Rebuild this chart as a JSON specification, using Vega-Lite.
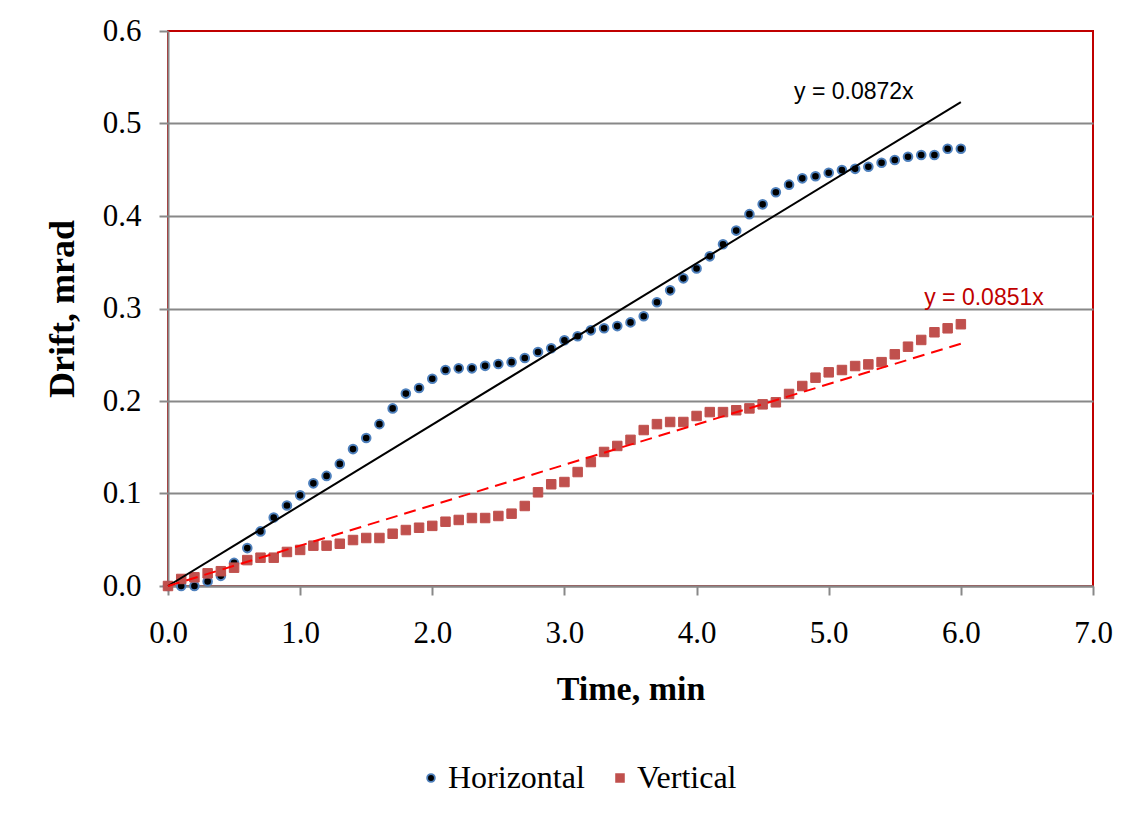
{
  "$schema": "https://vega.github.io/schema/vega-lite/v6.json",
  "width": 925,
  "height": 555,
  "autosize": {"type": "none"},
  "padding": {"left": 168, "top": 31, "right": 41, "bottom": 230},
  "background": "white",
  "config": {
    "view": {"stroke": "#C00000", "strokeWidth": 2},
    "font": "Liberation Serif",
    "legend": {
      "orient": "none",
      "legendX": 247,
      "legendY": 731,
      "direction": "horizontal",
      "labelFont": "Liberation Serif",
      "labelFontSize": 32,
      "labelColor": "#000000",
      "symbolSize": 60,
      "symbolStrokeWidth": 1.8,
      "labelOffset": 1,
      "columnPadding": 19,
      "padding": 0
    }
  },
  "datasets": {
    "points": [
      {"time": 0.0, "drift": 0.0, "series": "Horizontal"},
      {"time": 0.1, "drift": 0.0, "series": "Horizontal"},
      {"time": 0.2, "drift": 0.0, "series": "Horizontal"},
      {"time": 0.3, "drift": 0.005, "series": "Horizontal"},
      {"time": 0.4, "drift": 0.011, "series": "Horizontal"},
      {"time": 0.5, "drift": 0.025, "series": "Horizontal"},
      {"time": 0.6, "drift": 0.041, "series": "Horizontal"},
      {"time": 0.7, "drift": 0.059, "series": "Horizontal"},
      {"time": 0.8, "drift": 0.074, "series": "Horizontal"},
      {"time": 0.9, "drift": 0.087, "series": "Horizontal"},
      {"time": 1.0, "drift": 0.098, "series": "Horizontal"},
      {"time": 1.1, "drift": 0.111, "series": "Horizontal"},
      {"time": 1.2, "drift": 0.119, "series": "Horizontal"},
      {"time": 1.3, "drift": 0.132, "series": "Horizontal"},
      {"time": 1.4, "drift": 0.148, "series": "Horizontal"},
      {"time": 1.5, "drift": 0.16, "series": "Horizontal"},
      {"time": 1.6, "drift": 0.175, "series": "Horizontal"},
      {"time": 1.7, "drift": 0.192, "series": "Horizontal"},
      {"time": 1.8, "drift": 0.208, "series": "Horizontal"},
      {"time": 1.9, "drift": 0.214, "series": "Horizontal"},
      {"time": 2.0, "drift": 0.224, "series": "Horizontal"},
      {"time": 2.1, "drift": 0.2335, "series": "Horizontal"},
      {"time": 2.2, "drift": 0.2353, "series": "Horizontal"},
      {"time": 2.3, "drift": 0.2353, "series": "Horizontal"},
      {"time": 2.4, "drift": 0.238, "series": "Horizontal"},
      {"time": 2.5, "drift": 0.24, "series": "Horizontal"},
      {"time": 2.6, "drift": 0.242, "series": "Horizontal"},
      {"time": 2.7, "drift": 0.2465, "series": "Horizontal"},
      {"time": 2.8, "drift": 0.253, "series": "Horizontal"},
      {"time": 2.9, "drift": 0.257, "series": "Horizontal"},
      {"time": 3.0, "drift": 0.2656, "series": "Horizontal"},
      {"time": 3.1, "drift": 0.27, "series": "Horizontal"},
      {"time": 3.2, "drift": 0.2764, "series": "Horizontal"},
      {"time": 3.3, "drift": 0.2786, "series": "Horizontal"},
      {"time": 3.4, "drift": 0.281, "series": "Horizontal"},
      {"time": 3.5, "drift": 0.285, "series": "Horizontal"},
      {"time": 3.6, "drift": 0.2916, "series": "Horizontal"},
      {"time": 3.7, "drift": 0.3067, "series": "Horizontal"},
      {"time": 3.8, "drift": 0.3196, "series": "Horizontal"},
      {"time": 3.9, "drift": 0.3326, "series": "Horizontal"},
      {"time": 4.0, "drift": 0.3432, "series": "Horizontal"},
      {"time": 4.1, "drift": 0.3564, "series": "Horizontal"},
      {"time": 4.2, "drift": 0.3695, "series": "Horizontal"},
      {"time": 4.3, "drift": 0.3842, "series": "Horizontal"},
      {"time": 4.4, "drift": 0.402, "series": "Horizontal"},
      {"time": 4.5, "drift": 0.4126, "series": "Horizontal"},
      {"time": 4.6, "drift": 0.4256, "series": "Horizontal"},
      {"time": 4.7, "drift": 0.4339, "series": "Horizontal"},
      {"time": 4.8, "drift": 0.4407, "series": "Horizontal"},
      {"time": 4.9, "drift": 0.443, "series": "Horizontal"},
      {"time": 5.0, "drift": 0.4468, "series": "Horizontal"},
      {"time": 5.1, "drift": 0.4497, "series": "Horizontal"},
      {"time": 5.2, "drift": 0.451, "series": "Horizontal"},
      {"time": 5.3, "drift": 0.4533, "series": "Horizontal"},
      {"time": 5.4, "drift": 0.4576, "series": "Horizontal"},
      {"time": 5.5, "drift": 0.4605, "series": "Horizontal"},
      {"time": 5.6, "drift": 0.464, "series": "Horizontal"},
      {"time": 5.7, "drift": 0.466, "series": "Horizontal"},
      {"time": 5.8, "drift": 0.466, "series": "Horizontal"},
      {"time": 5.9, "drift": 0.4727, "series": "Horizontal"},
      {"time": 6.0, "drift": 0.4727, "series": "Horizontal"},
      {"time": 0.0, "drift": 0.0, "series": "Vertical"},
      {"time": 0.1, "drift": 0.0076, "series": "Vertical"},
      {"time": 0.2, "drift": 0.0094, "series": "Vertical"},
      {"time": 0.3, "drift": 0.0137, "series": "Vertical"},
      {"time": 0.4, "drift": 0.016, "series": "Vertical"},
      {"time": 0.5, "drift": 0.0198, "series": "Vertical"},
      {"time": 0.6, "drift": 0.028, "series": "Vertical"},
      {"time": 0.7, "drift": 0.0306, "series": "Vertical"},
      {"time": 0.8, "drift": 0.0306, "series": "Vertical"},
      {"time": 0.9, "drift": 0.0368, "series": "Vertical"},
      {"time": 1.0, "drift": 0.039, "series": "Vertical"},
      {"time": 1.1, "drift": 0.0436, "series": "Vertical"},
      {"time": 1.2, "drift": 0.0436, "series": "Vertical"},
      {"time": 1.3, "drift": 0.0457, "series": "Vertical"},
      {"time": 1.4, "drift": 0.0497, "series": "Vertical"},
      {"time": 1.5, "drift": 0.0519, "series": "Vertical"},
      {"time": 1.6, "drift": 0.0519, "series": "Vertical"},
      {"time": 1.7, "drift": 0.0565, "series": "Vertical"},
      {"time": 1.8, "drift": 0.0605, "series": "Vertical"},
      {"time": 1.9, "drift": 0.063, "series": "Vertical"},
      {"time": 2.0, "drift": 0.065, "series": "Vertical"},
      {"time": 2.1, "drift": 0.0695, "series": "Vertical"},
      {"time": 2.2, "drift": 0.0714, "series": "Vertical"},
      {"time": 2.3, "drift": 0.0735, "series": "Vertical"},
      {"time": 2.4, "drift": 0.0735, "series": "Vertical"},
      {"time": 2.5, "drift": 0.0757, "series": "Vertical"},
      {"time": 2.6, "drift": 0.0782, "series": "Vertical"},
      {"time": 2.7, "drift": 0.0865, "series": "Vertical"},
      {"time": 2.8, "drift": 0.1013, "series": "Vertical"},
      {"time": 2.9, "drift": 0.11, "series": "Vertical"},
      {"time": 3.0, "drift": 0.1124, "series": "Vertical"},
      {"time": 3.1, "drift": 0.1232, "series": "Vertical"},
      {"time": 3.2, "drift": 0.134, "series": "Vertical"},
      {"time": 3.3, "drift": 0.1449, "series": "Vertical"},
      {"time": 3.4, "drift": 0.1514, "series": "Vertical"},
      {"time": 3.5, "drift": 0.158, "series": "Vertical"},
      {"time": 3.6, "drift": 0.1686, "series": "Vertical"},
      {"time": 3.7, "drift": 0.175, "series": "Vertical"},
      {"time": 3.8, "drift": 0.1773, "series": "Vertical"},
      {"time": 3.9, "drift": 0.1773, "series": "Vertical"},
      {"time": 4.0, "drift": 0.1838, "series": "Vertical"},
      {"time": 4.1, "drift": 0.188, "series": "Vertical"},
      {"time": 4.2, "drift": 0.188, "series": "Vertical"},
      {"time": 4.3, "drift": 0.19, "series": "Vertical"},
      {"time": 4.4, "drift": 0.192, "series": "Vertical"},
      {"time": 4.5, "drift": 0.1964, "series": "Vertical"},
      {"time": 4.6, "drift": 0.1986, "series": "Vertical"},
      {"time": 4.7, "drift": 0.2076, "series": "Vertical"},
      {"time": 4.8, "drift": 0.2162, "series": "Vertical"},
      {"time": 4.9, "drift": 0.2252, "series": "Vertical"},
      {"time": 5.0, "drift": 0.231, "series": "Vertical"},
      {"time": 5.1, "drift": 0.2335, "series": "Vertical"},
      {"time": 5.2, "drift": 0.2378, "series": "Vertical"},
      {"time": 5.3, "drift": 0.2396, "series": "Vertical"},
      {"time": 5.4, "drift": 0.242, "series": "Vertical"},
      {"time": 5.5, "drift": 0.2505, "series": "Vertical"},
      {"time": 5.6, "drift": 0.2587, "series": "Vertical"},
      {"time": 5.7, "drift": 0.266, "series": "Vertical"},
      {"time": 5.8, "drift": 0.2743, "series": "Vertical"},
      {"time": 5.9, "drift": 0.2786, "series": "Vertical"},
      {"time": 6.0, "drift": 0.283, "series": "Vertical"}
    ],
    "trendH": [
      {"time": 0, "drift": 0},
      {"time": 6, "drift": 0.5232}
    ],
    "trendV": [
      {"time": 0, "drift": 0},
      {"time": 6, "drift": 0.262}
    ],
    "labelH": [{"time": 5.19, "drift": 0.5265, "text": "y = 0.0872x"}],
    "labelV": [{"time": 6.175, "drift": 0.3038, "text": "y = 0.0851x"}]
  },
  "layer": [
    {
      "data": {"name": "points"},
      "transform": [{"filter": "datum.series == 'Horizontal'"}],
      "mark": {"type": "point", "filled": true, "strokeWidth": 2, "opacity": 1, "size": 74},
      "encoding": {
        "x": {
          "field": "time", "type": "quantitative",
          "scale": {"domain": [0, 7], "nice": false, "zero": false},
          "axis": {
            "title": "Time, min",
            "values": [0, 1, 2, 3, 4, 5, 6, 7],
            "format": ".1f",
            "grid": false,
            "domainColor": "#888888", "domainWidth": 2,
            "tickColor": "#888888", "tickWidth": 2, "tickSize": 9,
            "labelFont": "Liberation Serif", "labelFontSize": 31, "labelColor": "#000000",
            "labelBaseline": "alphabetic", "labelPadding": 47,
            "labelFlush": false, "labelOverlap": false,
            "titleFont": "Liberation Serif", "titleFontSize": 34, "titleFontWeight": "bold", "titleColor": "#000000",
            "titleBaseline": "alphabetic", "titleY": 113
          }
        },
        "y": {
          "field": "drift", "type": "quantitative",
          "scale": {"domain": [0, 0.6], "nice": false},
          "axis": {
            "title": "Drift, mrad",
            "values": [0, 0.1, 0.2, 0.3, 0.4, 0.5, 0.6],
            "format": ".1f",
            "grid": true,
            "gridColor": {"condition": {"test": "datum.value > 0.55", "value": "transparent"}, "value": "#888888"},
            "gridWidth": 1.8,
            "domainColor": "#888888", "domainWidth": 2,
            "tickColor": "#888888", "tickWidth": 2, "tickSize": 9,
            "labelFont": "Liberation Serif", "labelFontSize": 31, "labelColor": "#000000",
            "labelPadding": 18, "labelFlush": false, "labelOverlap": false,
            "titleFont": "Liberation Serif", "titleFontSize": 36, "titleFontWeight": "bold", "titleColor": "#000000",
            "titleBaseline": "alphabetic", "titleAngle": 270, "titleX": -95, "titleY": 277.5
          }
        },
        "fill": {
          "field": "series", "type": "nominal",
          "scale": {"domain": ["Horizontal", "Vertical"], "range": ["#000000", "#C0504D"]},
          "legend": {"title": null}
        },
        "stroke": {
          "field": "series", "type": "nominal",
          "scale": {"domain": ["Horizontal", "Vertical"], "range": ["#4F81BD", "#C0504D"]},
          "legend": {"title": null}
        },
        "shape": {
          "field": "series", "type": "nominal",
          "scale": {"domain": ["Horizontal", "Vertical"], "range": ["circle", "square"]},
          "legend": {"title": null}
        }
      }
    },
    {
      "data": {"name": "points"},
      "transform": [{"filter": "datum.series == 'Vertical'"}],
      "mark": {"type": "point", "filled": true, "strokeWidth": 1, "opacity": 1, "size": 90},
      "encoding": {
        "x": {"field": "time", "type": "quantitative"},
        "y": {"field": "drift", "type": "quantitative"},
        "fill": {"field": "series", "type": "nominal", "legend": {"title": null}},
        "stroke": {"field": "series", "type": "nominal", "legend": {"title": null}},
        "shape": {"field": "series", "type": "nominal", "legend": {"title": null}}
      }
    },
    {
      "data": {"name": "trendH"},
      "mark": {"type": "line", "color": "#000000", "strokeWidth": 2},
      "encoding": {
        "x": {"field": "time", "type": "quantitative"},
        "y": {"field": "drift", "type": "quantitative"}
      }
    },
    {
      "data": {"name": "trendV"},
      "mark": {"type": "line", "color": "#FF0000", "strokeWidth": 2, "strokeDash": [12, 7]},
      "encoding": {
        "x": {"field": "time", "type": "quantitative"},
        "y": {"field": "drift", "type": "quantitative"}
      }
    },
    {
      "data": {"name": "labelH"},
      "mark": {"type": "text", "font": "Liberation Sans", "fontSize": 23, "color": "#000000", "align": "center", "baseline": "alphabetic"},
      "encoding": {
        "x": {"field": "time", "type": "quantitative"},
        "y": {"field": "drift", "type": "quantitative"},
        "text": {"field": "text"}
      }
    },
    {
      "data": {"name": "labelV"},
      "mark": {"type": "text", "font": "Liberation Sans", "fontSize": 23, "color": "#C00000", "align": "center", "baseline": "alphabetic"},
      "encoding": {
        "x": {"field": "time", "type": "quantitative"},
        "y": {"field": "drift", "type": "quantitative"},
        "text": {"field": "text"}
      }
    }
  ]
}
